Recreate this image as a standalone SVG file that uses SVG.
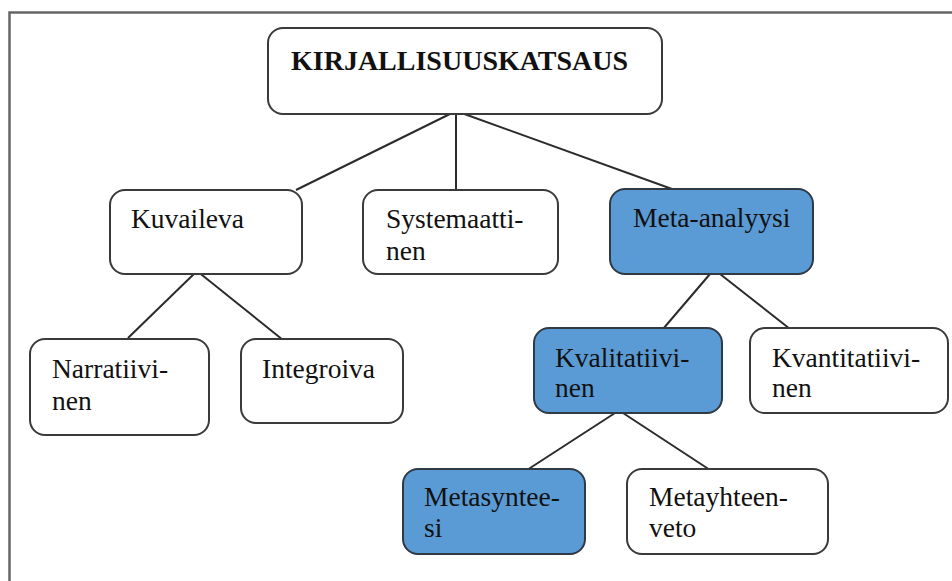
<svg xmlns="http://www.w3.org/2000/svg" width="952" height="581" viewBox="0 0 952 581">
<style>
.box{fill:#ffffff;stroke:#3a3a3a;stroke-width:2}
.blue{fill:#5b9bd5;stroke:#2f3a45;stroke-width:2}
.lbl{font-family:"Liberation Serif","Times New Roman",serif;font-size:27.5px;fill:#111}
.title{font-family:"Liberation Serif","Times New Roman",serif;font-size:28px;font-weight:bold;fill:#111}
.conn line{stroke:#2b2b2b;stroke-width:2}
</style>
<rect width="952" height="581" fill="#ffffff"/>
<polyline points="9.5,581 9.5,12.5 952,12.5" fill="none" stroke="#666" stroke-width="2.5"/>
<g id="connectors" class="conn">
<line x1="456" y1="111" x2="296" y2="190"/>
<line x1="456" y1="111" x2="456" y2="190"/>
<line x1="456" y1="111" x2="672" y2="189"/>
<line x1="197" y1="271" x2="128" y2="338"/>
<line x1="197" y1="271" x2="283" y2="340"/>
<line x1="710" y1="274" x2="663" y2="329"/>
<line x1="720" y1="274" x2="790" y2="329"/>
<line x1="615" y1="413" x2="527" y2="470"/>
<line x1="623" y1="413" x2="710" y2="470"/>
</g>
<g id="kirjallisuuskatsaus">
<rect class="box" x="268" y="28" width="394" height="86" rx="15"/>
<text class="title" x="291" y="70">KIRJALLISUUSKATSAUS</text>
</g>
<g id="kuvaileva">
<rect class="box" x="110" y="190" width="192" height="84" rx="15"/>
<text class="lbl" x="131" y="228">Kuvaileva</text>
</g>
<g id="systemaattinen">
<rect class="box" x="363" y="190" width="195" height="84" rx="15"/>
<text class="lbl" x="386" y="228">Systemaatti-</text>
<text class="lbl" x="386" y="260">nen</text>
</g>
<g id="meta-analyysi">
<rect class="blue" x="610" y="189" width="203" height="85" rx="15"/>
<text class="lbl" x="633" y="227">Meta-analyysi</text>
</g>
<g id="narratiivinen">
<rect class="box" x="30" y="339" width="179" height="96" rx="15"/>
<text class="lbl" x="52" y="378">Narratiivi-</text>
<text class="lbl" x="52" y="410">nen</text>
</g>
<g id="integroiva">
<rect class="box" x="241" y="339" width="162" height="84" rx="15"/>
<text class="lbl" x="262" y="378">Integroiva</text>
</g>
<g id="kvalitatiivinen">
<rect class="blue" x="534" y="328" width="188" height="85" rx="15"/>
<text class="lbl" x="555" y="367">Kvalitatiivi-</text>
<text class="lbl" x="555" y="397">nen</text>
</g>
<g id="kvantitatiivinen">
<rect class="box" x="750" y="328" width="198" height="85" rx="15"/>
<text class="lbl" x="772" y="367">Kvantitatiivi-</text>
<text class="lbl" x="772" y="397">nen</text>
</g>
<g id="metasynteesi">
<rect class="blue" x="403" y="469" width="182" height="85" rx="15"/>
<text class="lbl" x="424" y="506">Metasyntee-</text>
<text class="lbl" x="424" y="537">si</text>
</g>
<g id="metayhteenveto">
<rect class="box" x="627" y="469" width="201" height="85" rx="15"/>
<text class="lbl" x="649" y="506">Metayhteen-</text>
<text class="lbl" x="649" y="537">veto</text>
</g>
</svg>
